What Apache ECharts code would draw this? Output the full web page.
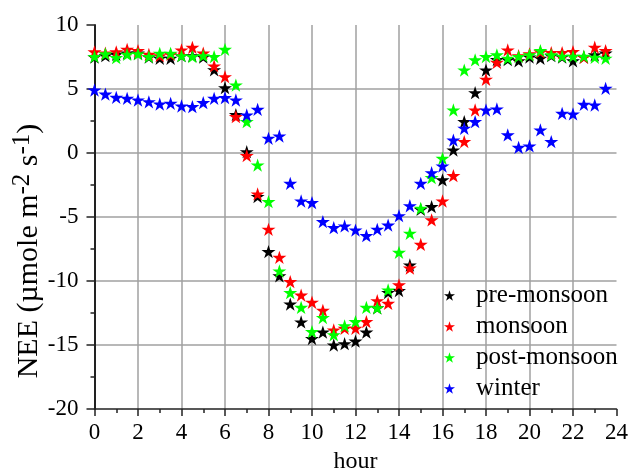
<!DOCTYPE html>
<html>
<head>
<meta charset="utf-8">
<script src="https://cdn.jsdelivr.net/npm/echarts@6/dist/echarts.min.js"></script>
<style>html,body{margin:0;padding:0;background:#fff}#c{width:630px;height:473px}</style>
</head>
<body>
<div id="c"></div>
<script>
const hours = [0,0.5,1,1.5,2,2.5,3,3.5,4,4.5,5,5.5,6,6.5,7,7.5,8,8.5,9,9.5,10,10.5,11,11.5,12,12.5,13,13.5,14,14.5,15,15.5,16,16.5,17,17.5,18,18.5,19,19.5,20,20.5,21,21.5,22,22.5,23,23.5];
const preMonsoon = [7.5,7.6,7.7,7.8,7.8,7.5,7.4,7.4,7.6,7.6,7.5,6.5,5.1,3.0,0.1,-3.4,-7.7,-9.6,-11.8,-13.2,-14.5,-14.0,-15.0,-14.9,-14.7,-14.0,-12.1,-10.9,-10.75,-8.75,-4.4,-4.19,-2.1,0.23,2.45,4.71,6.48,7.3,7.3,7.2,7.5,7.4,7.6,7.5,7.2,7.5,7.66,7.8];
const monsoon = [7.9,7.8,7.9,8.1,8.0,7.7,7.6,7.7,8.05,8.25,7.8,6.8,5.96,2.84,-0.2,-3.2,-5.96,-8.15,-10.05,-11.1,-11.66,-12.3,-13.83,-13.7,-13.7,-13.18,-11.54,-11.75,-10.3,-9.0,-7.14,-5.23,-3.75,-1.77,0.89,3.36,5.76,7.08,8.05,7.6,7.74,7.9,7.84,7.84,7.92,7.48,8.26,8.0];
const postMonsoon = [7.53,7.74,7.45,7.7,7.74,7.53,7.79,7.79,7.6,7.53,7.6,7.53,8.1,5.31,2.45,-0.94,-3.8,-9.22,-10.91,-12.06,-13.96,-12.86,-14.2,-13.5,-13.18,-12.06,-12.1,-10.7,-7.76,-6.27,-4.32,-1.93,-0.42,3.36,6.48,7.27,7.53,7.66,7.4,7.53,7.66,8.0,7.66,7.56,7.56,7.56,7.48,7.4];
const winter = [4.92,4.6,4.35,4.27,4.14,4.0,3.83,3.88,3.67,3.62,3.93,4.27,4.32,4.14,2.97,3.41,1.15,1.33,-2.37,-3.75,-3.88,-5.36,-5.83,-5.7,-6.02,-6.46,-5.96,-5.63,-4.9,-4.12,-2.37,-1.54,-1.02,1.0,1.93,2.45,3.36,3.44,1.41,0.44,0.55,1.8,0.89,3.1,3.05,3.8,3.75,5.05];
const seriesNames = ['pre-monsoon','monsoon','post-monsoon','winter'];
const seriesColors = ['#000000','#ff0000','#00ff00','#0000ff'];
const seriesValues = [preMonsoon, monsoon, postMonsoon, winter];

const STAR = 'path://M50,0 L61.2,34.5 L97.6,34.5 L68.2,55.9 L79.4,90.5 L50,69.1 L20.6,90.5 L31.8,55.9 L2.4,34.5 L38.8,34.5 Z';
const FONT = 'Liberation Serif';

const chart = echarts.init(document.getElementById('c'), null, {renderer: 'canvas'});
chart.setOption({
  animation: false,
  backgroundColor: '#fff',
  grid: {left: 94.5, right: 13.5, top: 25, bottom: 64, containLabel: false, outerBoundsMode: 'none'},
  legend: {
    orient: 'vertical',
    left: 439, top: 278,
    icon: STAR,
    itemWidth: 11, itemHeight: 11,
    itemGap: 6,
    textStyle: {fontFamily: FONT, fontSize: 25, lineHeight: 25, color: '#000', padding: [0,0,0,16]},
    data: seriesNames
  },
  xAxis: {
    type: 'value', min: 0, max: 24, interval: 2,
    name: 'hour', nameLocation: 'middle', nameGap: 41,
    nameTextStyle: {fontFamily: FONT, fontSize: 24, color: '#000'},
    axisLine: {onZero: false, lineStyle: {color: '#222', width: 1.5}},
    axisTick: {inside: false, length: 7, lineStyle: {color: '#222', width: 1.5}},
    minorTick: {show: true, splitNumber: 2, length: 4, lineStyle: {color: '#222', width: 1.5}},
    axisLabel: {fontFamily: FONT, fontSize: 23, color: '#000', margin: 12},
    splitLine: {show: true, showMinLine: false, showMaxLine: false, lineStyle: {color: '#a0a0a0', width: 1.5}}
  },
  yAxis: {
    type: 'value', min: -20, max: 10, interval: 5,
    axisLine: {show: true, onZero: false, lineStyle: {color: '#222', width: 2}},
    axisTick: {show: true, inside: false, length: 8, lineStyle: {color: '#222', width: 1.5}},
    minorTick: {show: true, splitNumber: 2, length: 4, lineStyle: {color: '#222', width: 1.5}},
    axisLabel: {fontFamily: FONT, fontSize: 23, color: '#000', margin: 16},
    splitLine: {show: true, showMinLine: false, showMaxLine: false, lineStyle: {color: '#a0a0a0', width: 1.5}}
  },
  graphic: [{
    type: 'text',
    x: 29, y: 251,
    rotation: Math.PI / 2,
    style: {
      text: 'NEE (µmole m{sup|-2} s{sup|-1})',
      fontFamily: FONT, fontSize: 30, fill: '#000',
      align: 'center', verticalAlign: 'middle',
      rich: {sup: {fontFamily: FONT, fontSize: 25, fill: '#000', padding: [0,0,14,0]}}
    }
  }],
  series: seriesNames.map((name, k) => ({
    name: name,
    type: 'scatter',
    symbol: STAR,
    symbolKeepAspect: true,
    symbolSize: 14,
    itemStyle: {color: seriesColors[k], opacity: 1},
    data: hours.map((h, i) => [h, seriesValues[k][i]])
  }))
});
</script>
</body>
</html>
